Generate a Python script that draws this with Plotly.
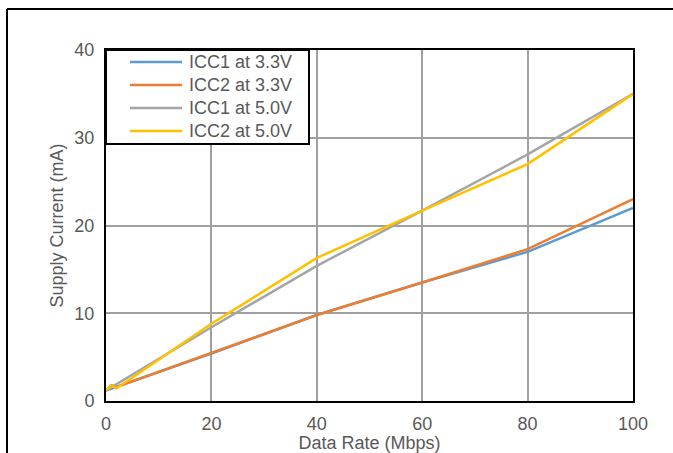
import plotly.graph_objects as go

# Supply current vs. data rate for two supply voltages
data_rate_a = [0, 20, 40, 60, 80, 100]
icc1_33 = [1.2, 5.4, 9.8, 13.5, 17.0, 22.0]

data_rate_b = [0, 1, 2, 20, 40, 60, 80, 100]
icc2_33 = [1.2, 1.8, 1.6, 5.5, 9.8, 13.5, 17.3, 23.0]

data_rate_c = [0, 20, 40, 60, 80, 100]
icc1_50 = [1.2, 8.4, 15.4, 21.7, 28.1, 35.0]

data_rate_d = [0, 1, 2, 20, 40, 60, 80, 100]
icc2_50 = [1.2, 1.75, 1.45, 8.8, 16.3, 21.7, 27.0, 35.0]

series_names = ["ICC1 at 3.3V", "ICC2 at 3.3V", "ICC1 at 5.0V", "ICC2 at 5.0V"]
series_colors = ["#5B9BD5", "#ED7D31", "#A5A5A5", "#FFC000"]
series_x = [data_rate_a, data_rate_b, data_rate_c, data_rate_d]
series_y = [icc1_33, icc2_33, icc1_50, icc2_50]

x_ticks = [0, 20, 40, 60, 80, 100]
y_ticks = [0, 10, 20, 30, 40]

W, H = 673, 453
L, R, T, B = 106, 40, 50, 52
pw, ph = W - L - R, H - T - B


def px(x):
    return (x - L) / pw


def py(y):
    return (H - B - y) / ph


fig = go.Figure()
for xs, ys, name, color in zip(series_x, series_y, series_names, series_colors):
    fig.add_trace(go.Scatter(x=xs, y=ys, mode="lines", name=name,
                             line=dict(color=color, width=2.5),
                             showlegend=False))

font_color = "#595959"
font_family = "Liberation Sans, Arial, sans-serif"

shapes = []
annotations = []

# outer chart frame (left and top edges)
shapes.append(dict(type="line", xref="paper", yref="paper",
                   x0=px(7), x1=px(7), y0=py(9), y1=py(H + 5),
                   line=dict(color="black", width=2)))
shapes.append(dict(type="line", xref="paper", yref="paper",
                   x0=px(7), x1=px(W + 5), y0=py(9), y1=py(9),
                   line=dict(color="black", width=2)))

# legend box
shapes.append(dict(type="rect", xref="paper", yref="paper",
                   x0=px(106), x1=px(309), y0=py(144), y1=py(50),
                   line=dict(color="black", width=2), fillcolor="white",
                   layer="above"))
row_y = [62, 85, 108, 131]
for yy, name, color in zip(row_y, series_names, series_colors):
    shapes.append(dict(type="line", xref="paper", yref="paper",
                       x0=px(130), x1=px(182), y0=py(yy), y1=py(yy),
                       line=dict(color=color, width=2.5), layer="above"))
    annotations.append(dict(xref="paper", yref="paper", x=px(187), y=py(yy),
                            text=name, showarrow=False, xanchor="left",
                            yanchor="middle",
                            font=dict(size=18, color=font_color,
                                      family=font_family)))

fig.update_layout(
    width=W, height=H,
    margin=dict(l=L, r=R, t=T, b=B),
    paper_bgcolor="white", plot_bgcolor="white",
    font=dict(family=font_family, color=font_color, size=18),
    shapes=shapes, annotations=annotations,
)
fig.update_xaxes(
    range=[0, 100], tickvals=x_ticks, ticks="", showgrid=True,
    gridcolor="#A0A0A0", gridwidth=1.5, zeroline=False,
    showline=True, linecolor="black", linewidth=2, mirror=True,
    tickfont=dict(size=18, color=font_color),
    ticklabelstandoff=5,
    title=dict(text="Data Rate (Mbps)", standoff=1,
               font=dict(size=18, color=font_color)),
    automargin=False,
)
fig.update_yaxes(
    range=[0, 40], tickvals=y_ticks, ticks="", showgrid=True,
    gridcolor="#A0A0A0", gridwidth=1.5, zeroline=False,
    showline=True, linecolor="black", linewidth=2, mirror=True,
    tickfont=dict(size=18, color=font_color),
    ticklabelstandoff=6,
    title=dict(text="Supply Current (mA)", standoff=6,
               font=dict(size=18, color=font_color)),
    automargin=False,
)

fig.write_html("out.html")
